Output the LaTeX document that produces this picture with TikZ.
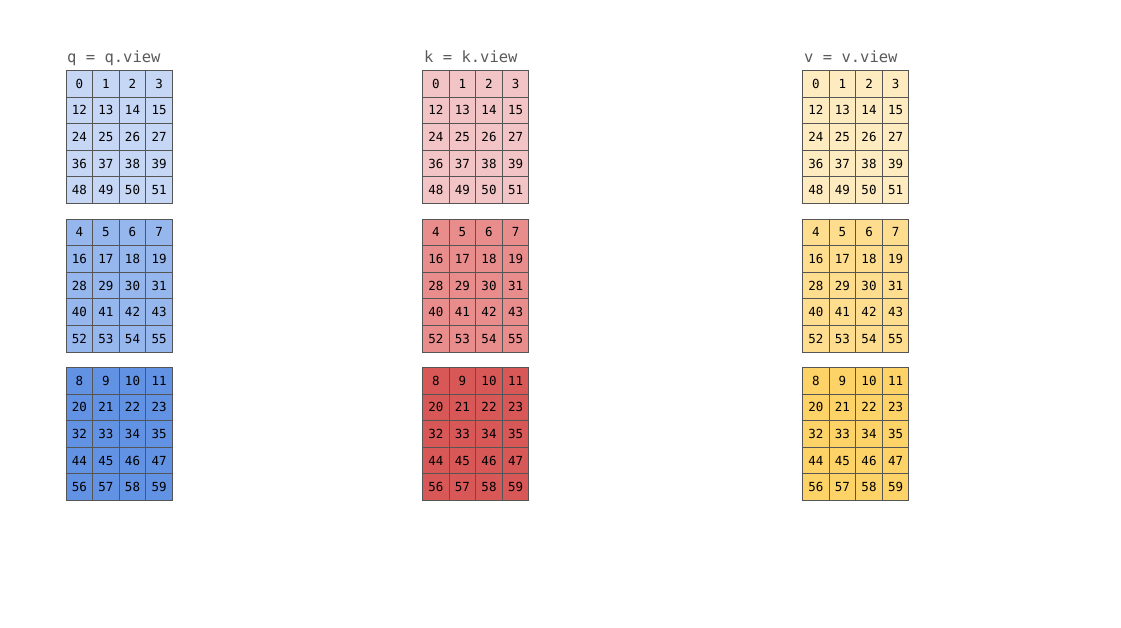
\documentclass[tikz,border=0pt]{standalone}
\usepackage{fontspec}
\setmonofont{DejaVu Sans Mono}
\definecolor{qa}{RGB}{198,214,245}
\definecolor{qb}{RGB}{150,182,238}
\definecolor{qc}{RGB}{98,146,228}
\definecolor{ka}{RGB}{242,196,198}
\definecolor{kb}{RGB}{232,140,140}
\definecolor{kc}{RGB}{216,88,88}
\definecolor{va}{RGB}{254,236,192}
\definecolor{vb}{RGB}{254,222,142}
\definecolor{vc}{RGB}{253,210,102}
\definecolor{edge}{RGB}{85,85,85}
\definecolor{titlegray}{RGB}{90,90,90}
\tikzset{
  cellbox/.style={draw=edge,line width=1pt,minimum width=26.6pt,minimum height=26.6pt,inner sep=0pt,text height=9pt,text depth=0pt,font=\ttfamily\fontsize{12.5}{14}\selectfont,text=black},
  titletext/.style={anchor=base west,inner sep=0pt,font=\ttfamily\fontsize{15.5}{17}\selectfont,text=titlegray}
}
\begin{document}
\begin{tikzpicture}[x=1pt,y=-1pt]
\useasboundingbox (0,0) rectangle (1121,627);
\node[titletext] (qt) at (67,62) {q = q.view};
\node[titletext] (kt) at (424,62) {k = k.view};
\node[titletext] (vt) at (804,62) {v = v.view};
\foreach \nm/\x in {q/65.5,k/422,v/802}{
  \foreach \g/\sh in {0/a,1/b,2/c}{
    \foreach \r in {0,...,4}{
      \foreach \c in {0,...,3}{
        \pgfmathtruncatemacro{\val}{\g*4+\r*12+\c}
        \node[cellbox,fill=\nm\sh,anchor=north west] (\nm-\g-\r-\c) at ({\x+\c*26.6},{70+\g*148.5+\r*26.6}) {\val};
      }
    }
  }
}
\end{tikzpicture}
\end{document}
